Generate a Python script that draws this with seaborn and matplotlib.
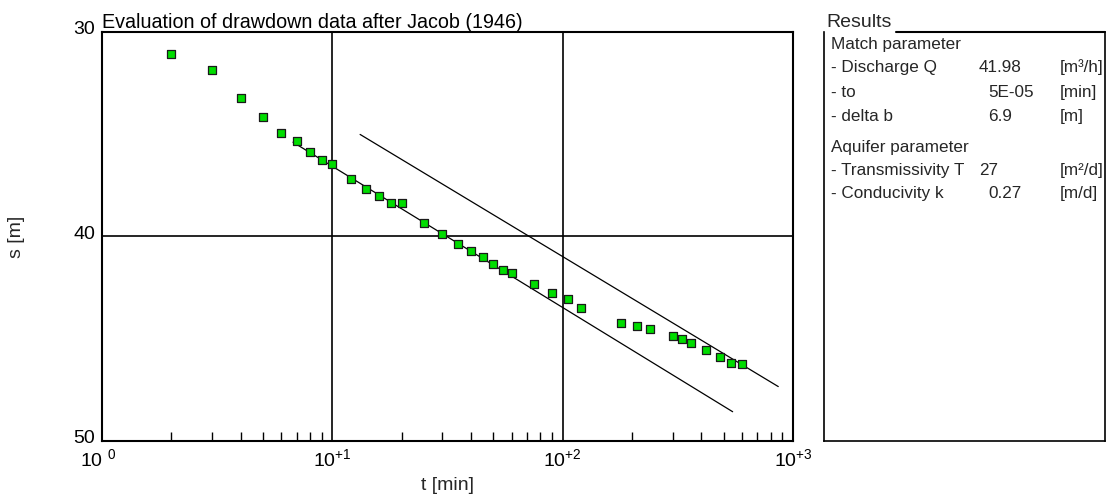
import numpy as np
import pandas as pd
import seaborn as sns
import matplotlib
matplotlib.use("Agg")
import matplotlib.pyplot as plt
from matplotlib.ticker import FixedLocator, FixedFormatter, NullFormatter
from matplotlib.transforms import ScaledTranslation

# ---------------- data ----------------
t_min = [2, 3, 4, 5, 6, 7, 8, 9, 10, 12, 14, 16, 18, 20, 25, 30, 35, 40, 45, 50,
         55, 60, 75, 90, 105, 120, 180, 210, 240, 300, 330, 360, 420, 480, 540, 600]
s_m = [31.09, 31.87, 33.26, 34.17, 34.97, 35.35, 35.89, 36.25, 36.46, 37.18,
       37.68, 38.03, 38.37, 38.38, 39.33, 39.89, 40.36, 40.70, 41.01, 41.34,
       41.62, 41.80, 42.33, 42.78, 43.05, 43.51, 44.24, 44.37, 44.52, 44.89,
       45.04, 45.20, 45.55, 45.89, 46.17, 46.25]

# Jacob straight-line fit: s = delta_b * log10(t / t0)
t0 = 5e-05
delta_b = 6.9
fit_t = [6.75, 547]
# parallel line
line2_t = [13.2, 863]
line2_s = [35.02, 47.34]

x_ticks = [1, 10, 100, 1000]
x_ticklabels = ["10 $^{0}$", "10$^{+1}$", "10$^{+2}$", "10$^{+3}$"]
y_ticks = [30, 40, 50]

result_labels = ["Match parameter", "- Discharge Q", "- to", "- delta b",
                 "Aquifer parameter", "- Transmissivity T", "- Conducivity k"]
result_values = ["", "41.98", "5E-05", "6.9", "", "27", "0.27"]
result_units = ["", "[m³/h]", "[min]", "[m]", "", "[m²/d]", "[m/d]"]
# layout (pixels, baselines)
row_base_px = [49, 72, 97, 121, 152, 175, 198]
value_x_px = [0, 979, 988, 988, 0, 979, 988]

# ---------------- style ----------------
sns.set_theme(style="white")
plt.rcParams["font.family"] = ["Liberation Sans", "DejaVu Sans"]
plt.rcParams["mathtext.fontset"] = "custom"
plt.rcParams["mathtext.rm"] = "Liberation Sans"
plt.rcParams["mathtext.it"] = "Liberation Sans"
plt.rcParams["mathtext.default"] = "regular"

W, H = 1107, 496
fig = plt.figure(figsize=(W / 100, H / 100), dpi=100)
fig.patch.set_facecolor("white")

L, R, T, B = 102, 793, 31.7, 441
ax = fig.add_axes([L / W, (H - B) / H, (R - L) / W, (B - T) / H])

fs = 14

# fit line
fit_df = pd.DataFrame({"t": fit_t, "s": [delta_b * np.log10(t / t0) for t in fit_t]})
sns.lineplot(data=fit_df, x="t", y="s", ax=ax, color="black", lw=0.9, zorder=3)
l2_df = pd.DataFrame({"t": line2_t, "s": line2_s})
sns.lineplot(data=l2_df, x="t", y="s", ax=ax, color="black", lw=0.9, zorder=3)

pts = pd.DataFrame({"t": t_min, "s": s_m})
sns.scatterplot(data=pts, x="t", y="s", ax=ax, marker="s", s=32,
                color="#00dd00", edgecolor="#1a1a1a", linewidth=0.9, zorder=4)

ax.set_xscale("log")
ax.set_xlim(1, 1000)
ax.set_ylim(50, 30)

ax.xaxis.set_major_locator(FixedLocator(x_ticks))
ax.xaxis.set_major_formatter(FixedFormatter(x_ticklabels))
minor = [m * 10 ** d for d in range(0, 3) for m in range(2, 10)]
ax.xaxis.set_minor_locator(FixedLocator(minor))
ax.xaxis.set_minor_formatter(NullFormatter())
ax.yaxis.set_major_locator(FixedLocator(y_ticks))

ax.tick_params(axis="x", which="major", length=0, pad=5, labelsize=fs, colors="black")
ax.tick_params(axis="x", which="minor", direction="in", length=6.5, width=1.0,
               color="black", bottom=True, top=False)
ax.tick_params(axis="y", which="major", length=0, pad=5, labelsize=fs, colors="black")
for lab in ax.get_yticklabels():
    lab.set_transform(lab.get_transform() + ScaledTranslation(0, 3 / 72, fig.dpi_scale_trans))
xl = ax.get_xticklabels()
xl[0].set_transform(xl[0].get_transform() + ScaledTranslation(-3 / 72, 0, fig.dpi_scale_trans))

for v in [10, 100]:
    ax.axvline(v, color="black", lw=1.2, zorder=2)
ax.axhline(40, color="black", lw=1.2, zorder=2)

for sp in ax.spines.values():
    sp.set_visible(True)
    sp.set_color("black")
    sp.set_linewidth(1.5)

ax.set_xlabel("")
ax.set_ylabel("")
ax.set_title("Evaluation of drawdown data after Jacob (1946)", loc="left",
             fontsize=14.2, pad=3, color="black")

fig.text(16.5 / W, 1 - 237 / H, "s [m]", rotation=90, ha="center", va="center",
         fontsize=fs)
fig.text(447.5 / W, 1 - 485 / H, "t [min]", ha="center", va="center", fontsize=fs)

# ---------------- results panel ----------------
RL, RR = 824, 1105
rax = fig.add_axes([RL / W, (H - B) / H, (RR - RL) / W, (B - T) / H])
rax.set_xlim(RL, RR)
rax.set_ylim(B, T)
rax.set_xticks([])
rax.set_yticks([])
for name, sp in rax.spines.items():
    sp.set_color("black")
    sp.set_linewidth(1.2)
rax.spines["top"].set_visible(False)
rax.plot([896, RR], [T, T], color="black", lw=1.5, clip_on=False)
rax.text(826, T - 5, "Results", ha="left", va="baseline", fontsize=fs)

rfs = 12.3
for lab, val, unit, yy, vx in zip(result_labels, result_values, result_units,
                                  row_base_px, value_x_px):
    rax.text(831, yy, lab, ha="left", va="baseline", fontsize=rfs)
    if val:
        rax.text(vx, yy, val, ha="left", va="baseline", fontsize=rfs)
        rax.text(1060, yy, unit, ha="left", va="baseline", fontsize=rfs)

fig.savefig("out.png", dpi=100, facecolor="white")
